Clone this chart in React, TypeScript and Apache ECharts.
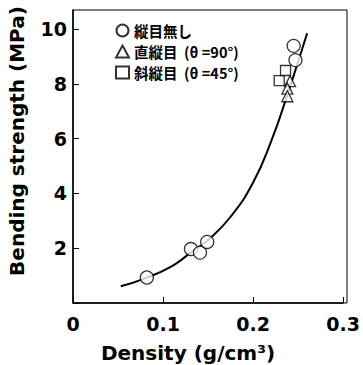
import React, { useEffect, useRef } from "react";
import * as echarts from "echarts";

const densityNoJoint = [0.082, 0.131, 0.141, 0.149, 0.245, 0.247];
const strengthNoJoint = [0.93, 1.97, 1.84, 2.23, 9.39, 8.87];
const densityButt = [0.241, 0.238, 0.238];
const strengthButt = [8.1, 7.83, 7.55];
const densityScarf = [0.229, 0.236];
const strengthScarf = [8.12, 8.49];
const curveDensity = [0.053, 0.08, 0.11, 0.13, 0.15, 0.175, 0.2, 0.22, 0.238, 0.26];
const curveStrength = [0.61, 0.9, 1.35, 1.82, 2.3, 3.15, 4.4, 5.9, 7.6, 9.85];
const seriesNames = ["縦目無し", "直縦目 (θ =90°)", "斜縦目 (θ =45°)"];
const xTicks = [0, 0.1, 0.2, 0.3];

const zip = (a: number[], b: number[]) => a.map((v, i) => [v, b[i]]);

export default function App() {
  const ref = useRef<HTMLDivElement>(null);
  useEffect(() => {
    if (!ref.current) return;
    const chart = echarts.init(ref.current, null, { renderer: "svg" });
    const font = "DejaVu Sans";
    const markerStyle = { color: "#fff", borderColor: "#000", borderWidth: 1.3 };
    chart.setOption({
      animation: false,
      backgroundColor: "#fff",
      grid: { left: 73, right: 16, top: 10, bottom: 62 },
      xAxis: {
        type: "value",
        min: 0,
        max: 0.3,
        interval: 0.1,
        axisLine: { show: true, lineStyle: { color: "#000", width: 1.5 } },
        axisTick: { show: true, inside: true, length: 6, lineStyle: { color: "#000" } },
        splitLine: { show: false },
        axisLabel: {
          color: "#000",
          fontFamily: font,
          fontWeight: "bold",
          fontSize: 19,
          margin: 11,
          formatter: (v: number) => (xTicks.includes(Math.round(v * 10) / 10) ? String(Math.round(v * 10) / 10) : ""),
        },
      },
      yAxis: {
        type: "value",
        min: 0,
        max: 10.7,
        interval: 2,
        axisLine: { show: true, lineStyle: { color: "#000", width: 1.5 } },
        axisTick: { show: true, inside: true, length: 6, lineStyle: { color: "#000" } },
        splitLine: { show: false },
        axisLabel: {
          color: "#000",
          fontFamily: font,
          fontWeight: "bold",
          fontSize: 19,
          margin: 6,
          showMaxLabel: false,
          formatter: (v: number) => (v === 0 ? "" : String(v)),
        },
      },
      legend: {
        orient: "vertical",
        left: 115,
        top: 22,
        itemGap: 4,
        itemWidth: 13,
        itemHeight: 12,
        padding: 0,
        data: seriesNames,
        textStyle: {
          color: "#000",
          fontFamily: "Noto Sans CJK JP",
          fontWeight: "bold",
          fontSize: 14.5,
          lineHeight: 17,
        },
        formatter: (n: string) => n.replace(" (", "  ("),
      },
      graphic: [
        {
          type: "rect",
          shape: { x: 73, y: 10, width: 274, height: 293 },
          style: { fill: "none", stroke: "#000", lineWidth: 1 },
          silent: true,
        },
        {
          type: "text",
          x: 17,
          y: 141,
          rotation: Math.PI / 2,
          style: {
            text: "Bending strength (MPa)",
            fill: "#000",
            font: `bold 20px ${font}`,
            textAlign: "center",
            textVerticalAlign: "middle",
          },
        },
        {
          type: "text",
          x: 188,
          y: 353,
          style: {
            text: "Density (g/cm³)",
            fill: "#000",
            font: `bold 20px ${font}`,
            textAlign: "center",
            textVerticalAlign: "middle",
          },
        },
      ],
      series: [
        {
          type: "line",
          data: zip(curveDensity, curveStrength),
          smooth: true,
          showSymbol: false,
          symbol: "none",
          lineStyle: { color: "#000", width: 2 },
          z: 1,
          silent: true,
        },
        {
          name: seriesNames[0],
          type: "scatter",
          data: zip(densityNoJoint, strengthNoJoint),
          symbol: "circle",
          symbolSize: 13,
          itemStyle: markerStyle,
          z: 3,
        },
        {
          name: seriesNames[1],
          type: "scatter",
          data: zip(densityButt, strengthButt),
          symbol: "triangle",
          symbolSize: 11,
          itemStyle: markerStyle,
          z: 3,
        },
        {
          name: seriesNames[2],
          type: "scatter",
          data: zip(densityScarf, strengthScarf),
          symbol: "rect",
          symbolSize: 10,
          itemStyle: markerStyle,
          z: 3,
        },
      ],
    });
    return () => chart.dispose();
  }, []);
  return <div ref={ref} style={{ width: 363, height: 365, position: "absolute", left: 0, top: 0 }} />;
}
